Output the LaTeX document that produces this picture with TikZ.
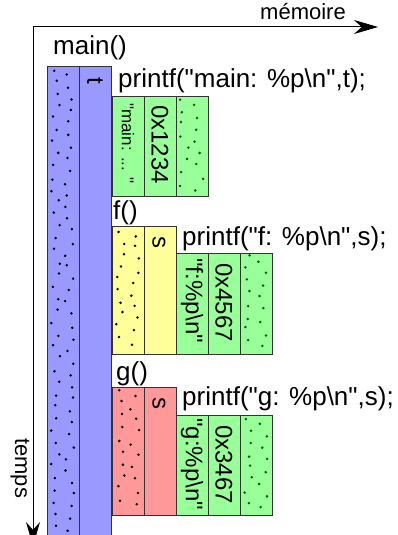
\documentclass[tikz,border=0pt]{standalone}
\usepackage{fontspec}
\setmainfont{Liberation Sans}[Ligatures=TeXOff]
\usetikzlibrary{arrows.meta}

\definecolor{stackblue}{HTML}{9999FF}
\definecolor{framegreen}{HTML}{99FF99}
\definecolor{frameyellow}{HTML}{FFFF99}
\definecolor{framered}{HTML}{FF9999}
\definecolor{dotgreen}{HTML}{0A5A0A}

\tikzset{
  code/.style={font=\fontsize{26}{30}\selectfont, inner sep=0pt, anchor=base west},
  value/.style={font=\fontsize{24}{28}\selectfont, rotate=-90, inner sep=0pt, anchor=west},
  axislabel/.style={font=\fontsize{22}{26}\selectfont, inner sep=0pt},
  axisline/.style={line width=1pt, -{Stealth[length=24pt, width=14pt]}},
  slot/.style={draw=black!80, line width=0.9pt, inner sep=0pt, outer sep=0pt,
    minimum width=32pt, anchor=north west},
}

% unused stack space: scattered dots in a column (colour, x, top, bottom)
\newcommand\speckle[4]{%
  \pgfmathtruncatemacro\spkrows{((#4)-(#3))/12}
  \foreach \k in {1,...,\spkrows}{
    \fill[#1] ({#2+4+9*rnd},{#3+12*\k-10+4*rnd}) circle (1.4pt);
    \fill[#1] ({#2+18+10*rnd},{#3+12*\k-5+4*rnd}) circle (1.4pt);
  }}

\begin{document}
\begin{tikzpicture}[x=1pt, y=-1pt]
  \useasboundingbox (0,0) rectangle (397,535);
  \pgfmathsetseed{11}

  % axes
  \coordinate (origin) at (33,27);
  \coordinate (memend) at (378,27);
  \coordinate (timeend) at (33,546);
  \draw[axisline] (origin) -- (memend);
  \draw[axisline] (origin) -- (timeend);
  \node[axislabel, anchor=base west] (memlbl) at (260,20) {mémoire};
  \node[axislabel, rotate=-90, anchor=base west] (timelbl) at (15,438) {temps};

  % main() frame
  \node[code] (mainname) at (53,55) {main()};
  \node[slot, fill=stackblue, minimum height=490pt] (stackL) at (47,66) {};
  \node[slot, fill=stackblue, minimum height=490pt] (stackR) at (79,66) {};
  \speckle{black}{47}{66}{540}
  \node[value] (tvar) at (95,77) {t};

  % printf in main
  \node[code] (mainprintf) at (118,87) {printf("main: \%p\textbackslash n",t);};
  \node[slot, fill=framegreen, minimum height=100pt] (mainA) at (112,96) {};
  \node[slot, fill=framegreen, minimum height=100pt] (mainB) at (144,96) {};
  \node[slot, fill=framegreen, minimum height=100pt] (mainC) at (176,96) {};
  \speckle{dotgreen}{176}{96}{196}
  \node[value, font=\fontsize{17}{20}\selectfont] (mainfmt) at (128,103) {"main: ... "};
  \node[value] (mainptr) at (160,105) {0x1234};

  % f() frame
  \node[code] (fname) at (113,219) {f()};
  \node[slot, fill=frameyellow, minimum height=128pt] (fL) at (112,226) {};
  \node[slot, fill=frameyellow, minimum height=128pt] (fR) at (144,226) {};
  \speckle{black}{112}{226}{354}
  \node[value] (fsvar) at (159,236) {s};

  % printf in f
  \node[code] (fprintf) at (182,245) {printf("f: \%p\textbackslash n",s);};
  \node[slot, fill=framegreen, minimum height=101pt] (fA) at (176,253) {};
  \node[slot, fill=framegreen, minimum height=101pt] (fB) at (208,253) {};
  \node[slot, fill=framegreen, minimum height=101pt] (fC) at (240,253) {};
  \speckle{dotgreen}{240}{253}{354}
  \node[value] (ffmt) at (192,258) {"f:\%p\textbackslash n"};
  \node[value] (fptr) at (224,263) {0x4567};

  % g() frame
  \node[code] (gname) at (116,380) {g()};
  \node[slot, fill=framered, minimum height=128pt] (gL) at (112,387) {};
  \node[slot, fill=framered, minimum height=128pt] (gR) at (144,387) {};
  \speckle{black}{112}{387}{515}
  \node[value] (gsvar) at (159,397) {s};

  % printf in g
  \node[code] (gprintf) at (182,405) {printf("g: \%p\textbackslash n",s);};
  \node[slot, fill=framegreen, minimum height=100pt] (gA) at (176,415) {};
  \node[slot, fill=framegreen, minimum height=100pt] (gB) at (208,415) {};
  \node[slot, fill=framegreen, minimum height=100pt] (gC) at (240,415) {};
  \speckle{dotgreen}{240}{415}{515}
  \node[value] (gfmt) at (192,418) {"g:\%p\textbackslash n"};
  \node[value] (gptr) at (224,425) {0x3467};
\end{tikzpicture}
\end{document}
